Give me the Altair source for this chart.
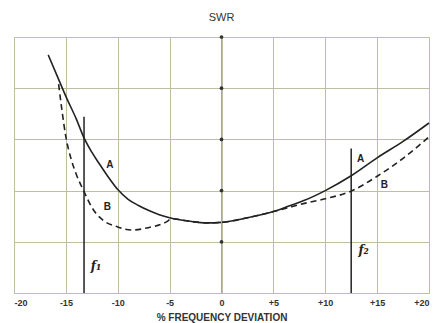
import altair as alt
import pandas as pd

# Curve A (solid)
a_x = [-16.7, -15.8, -15.0, -14.0, -13.25, -12.5, -11.7, -11.0, -10.0, -9.0, -8.0, -7.0, -6.0, -5.0,
       -3.0, -1.5, 0.0, 2.5, 5.0, 6.5, 8.0, 10.0, 12.5, 15.0, 17.5, 20.0]
a_y = [4.65, 4.22, 3.84, 3.40, 3.03, 2.75, 2.50, 2.29, 2.02, 1.83, 1.71, 1.61, 1.53, 1.47,
       1.40, 1.37, 1.38, 1.47, 1.59, 1.70, 1.81, 2.00, 2.29, 2.64, 2.96, 3.32]
# Curve B (dashed)
b_x = [-15.7, -15.4, -15.0, -14.5, -14.0, -13.25, -12.4, -11.4, -10.0, -8.6, -7.2, -5.3, -4.8,
       -3.0, -1.5, 0.0, 2.5, 5.0, 6.3, 8.0, 10.0, 12.5, 15.0, 17.5, 20.0]
b_y = [4.08, 3.60, 3.05, 2.62, 2.32, 1.98, 1.64, 1.42, 1.29, 1.23, 1.27, 1.39, 1.45,
       1.40, 1.37, 1.38, 1.47, 1.59, 1.66, 1.75, 1.84, 1.99, 2.28, 2.63, 3.05]

x_ticks = [-20, -15, -10, -5, 0, 5, 10, 15, 20]
x_tick_labels = ["-20", "-15", "-10", "-5", "0", "+5", "+10", "+15", "+20"]
y_grid = [0, 1, 2, 3, 4, 5]

f_x = [-13.25, 12.5]
f_top = [3.44, 2.82]
f_bottom = [0, 0]
f_labels = ["f\u2081", "f\u2082"]
f_label_x = [-12.1, 13.7]
f_label_y = [0.52, 0.84]

curve_labels = ["A", "B", "A", "B"]
curve_label_x = [-10.75, -11.0, 13.4, 15.7]
curve_label_y = [2.50, 1.68, 2.62, 2.10]

dot_x = [0, 0, 0, 0, 0]
dot_y = [1, 2, 3, 4, 5]

GRID = "#bdbf9f"
INK = "#222222"

curves = pd.DataFrame({
    "x": a_x + b_x,
    "y": a_y + b_y,
    "curve": ["A"] * len(a_x) + ["B"] * len(b_x),
})
fdf = pd.DataFrame({"x": f_x, "top": f_top, "bottom": f_bottom})
fl = pd.DataFrame({"x": f_label_x, "y": f_label_y, "t": f_labels})
cl = pd.DataFrame({"x": curve_label_x, "y": curve_label_y, "t": curve_labels})
dots = pd.DataFrame({"x": dot_x, "y": dot_y})

label_expr = "[" + ",".join("'" + s + "'" for s in x_tick_labels) + "][indexof([" + \
    ",".join(str(v) for v in x_ticks) + "], datum.value)]"

xs = alt.Scale(domain=[-20, 20], nice=False, zero=False)
ys = alt.Scale(domain=[0, 5], nice=False, zero=False)

x_axis = alt.Axis(values=x_ticks, labelExpr=label_expr, grid=True, gridColor=GRID, gridOpacity=1,
                  gridWidth=1, ticks=False, domain=False, labelFont="Liberation Sans",
                  labelFontWeight="bold", labelFontSize=9, labelColor="#333333", labelPadding=5,
                  titleFont="Liberation Sans", titleFontWeight="bold", titleFontSize=10,
                  titleColor="#333333", titlePadding=5)
y_axis = alt.Axis(values=y_grid, grid=True, gridColor=GRID, gridOpacity=1, gridWidth=1,
                  labels=False, ticks=False, domain=False)

base_x = alt.X("x:Q", scale=xs, axis=x_axis, title="% FREQUENCY DEVIATION")
base_y = alt.Y("y:Q", scale=ys, axis=y_axis, title="")

zero_rule = alt.Chart(pd.DataFrame({"x": [0], "y": [0], "y2": [5]})).mark_rule(
    color="#a8a8a0", strokeWidth=1).encode(
    x=alt.X("x:Q", scale=xs), y=alt.Y("y:Q", scale=ys), y2="y2:Q")

dot_layer = alt.Chart(dots).mark_point(filled=True, color="#333333", size=14, opacity=1).encode(
    x=alt.X("x:Q", scale=xs), y=alt.Y("y:Q", scale=ys))

line_a = alt.Chart(curves).transform_filter("datum.curve == 'A'").mark_line(
    color=INK, strokeWidth=1.6, interpolate="monotone").encode(
    x=base_x, y=base_y, order="x:Q")
line_b = alt.Chart(curves).transform_filter("datum.curve == 'B'").mark_line(
    color=INK, strokeWidth=1.6, strokeDash=[6, 4], interpolate="monotone").encode(
    x=alt.X("x:Q", scale=xs), y=alt.Y("y:Q", scale=ys), order="x:Q")

f_rules = alt.Chart(fdf).mark_rule(color=INK, strokeWidth=1.5).encode(
    x=alt.X("x:Q", scale=xs), y=alt.Y("top:Q", scale=ys), y2="bottom:Q")

f_text = alt.Chart(fl).mark_text(font="DejaVu Serif", fontStyle="italic", fontWeight="bold",
                                 fontSize=12, color=INK).encode(
    x=alt.X("x:Q", scale=xs), y=alt.Y("y:Q", scale=ys), text="t:N")

c_text = alt.Chart(cl).mark_text(font="Liberation Sans", fontWeight="bold", fontSize=10,
                                 color=INK).encode(
    x=alt.X("x:Q", scale=xs), y=alt.Y("y:Q", scale=ys), text="t:N")

chart = alt.layer(line_a, zero_rule, dot_layer, line_b, f_rules, f_text, c_text).properties(
    width=415, height=256,
    title=alt.Title("SWR", font="Liberation Sans", fontSize=11, fontWeight="normal",
                    color="#333333", offset=12),
    autosize=alt.AutoSizeParams(type="none"),
    padding={"left": 6, "top": 29, "right": 1, "bottom": 30},
).configure_view(stroke=GRID, strokeWidth=1).configure(background="white")

chart.save("out.html", embed_options={"renderer": "svg", "actions": False})
